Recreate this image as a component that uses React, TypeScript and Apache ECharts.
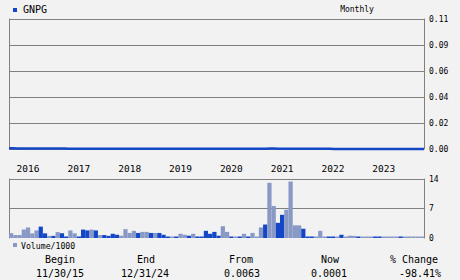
import { useEffect, useRef } from 'react';
import * as echarts from 'echarts';

// Monthly categories: Sep 2015 .. Oct 2023 (98 bars)
const months: string[] = [];
for (let y = 2015, m = 9; months.length < 98; ) {
  months.push(`${y}-${String(m).padStart(2, '0')}`);
  m++;
  if (m > 12) { m = 1; y++; }
}

const volumeK = [
  1.15, 0.7, 0.7, 2.0, 2.5, 1.1, 1.8, 2.7, 1.1, 0.5,
  0.5, 1.4, 1.1, 0.2, 1.8, 1.1, 0.2, 2.0, 1.8, 2.0,
  1.8, 0.7, 0.7, 0.5, 1.0, 0.77, 0.54, 2.1, 1.2, 1.7,
  1.2, 1.45, 1.45, 1.2, 1.2, 1.2, 0.77, 0.3, 0.1, 0.3,
  1.0, 0.77, 0.54, 1.0, 0.3, 0.1, 1.7, 1.0, 1.45, 0.54,
  2.8, 1.45, 0.3, 0.05, 0.1, 1.0, 0.1, 1.2, 0.3, 2.5,
  3.2, 13.1, 7.6, 3.6, 5.5, 6.7, 13.4, 3.0, 3.0, 2.2,
  0.05, 0.05, 0.3, 1.7, 0.3, 0.1, 0.05, 0.1, 0.77, 0.3,
  0.54, 0.5, 0.1, 0.1, 0.1, 0.1, 0.1, 0.1, 0.1, 0.1,
  0.1, 0.1, 0.1, 0.1, 0.1, 0.1, 0.1, 0.1,
];

// 1 = dark (up month), 0 = light
const volumeUp = [
  0, 0, 0, 0, 0, 0, 0, 1, 1, 0,
  1, 0, 1, 1, 0, 0, 1, 1, 1, 0,
  1, 0, 1, 1, 1, 1, 0, 0, 0, 0,
  1, 0, 0, 1, 0, 1, 1, 1, 0, 1,
  0, 0, 1, 0, 1, 1, 1, 1, 1, 1,
  0, 0, 1, 0, 1, 0, 1, 0, 0, 0,
  1, 0, 0, 1, 1, 0, 0, 0, 0, 1,
  1, 1, 0, 0, 0, 1, 1, 0, 1, 0,
  0, 0, 1, 0, 0, 0, 1, 1, 0, 0,
  0, 0, 1, 0, 0, 0, 0, 0,
];

const priceClose = [
  0.0006, 0.0006, 0.0005, 0.0005, 0.0005, 0.0004, 0.0004, 0.0004, 0.0004, 0.0004,
  0.0004, 0.0004, 0.0004, 0.0004, 0.0003, 0.0003, 0.0003, 0.0003, 0.0003, 0.0003,
  0.0003, 0.0003, 0.0003, 0.0003, 0.0003, 0.0003, 0.0003, 0.0003, 0.0003, 0.0003,
  0.0003, 0.0003, 0.0003, 0.0003, 0.0002, 0.0002, 0.0002, 0.0002, 0.0002, 0.0002,
  0.0002, 0.0002, 0.0002, 0.0002, 0.0002, 0.0002, 0.0002, 0.0002, 0.0002, 0.0002,
  0.0002, 0.0002, 0.0002, 0.0002, 0.0002, 0.0002, 0.0002, 0.0002, 0.0002, 0.0002,
  0.0003, 0.0004, 0.0004, 0.0003, 0.0003, 0.0003, 0.0003, 0.0002, 0.0002, 0.0002,
  0.0002, 0.0002, 0.0002, 0.0002, 0.0002, 0.0002, 0.0001, 0.0001, 0.0001, 0.0001,
  0.0001, 0.0001, 0.0001, 0.0001, 0.0001, 0.0001, 0.0001, 0.0001, 0.0001, 0.0001,
  0.0001, 0.0001, 0.0001, 0.0001, 0.0001, 0.0001, 0.0001, 0.0001,
];

const priceTickLabels = ['0.00', '0.02', '0.04', '0.06', '0.09', '0.11'];
const volumeTickLabels = ['0', '7', '14'];

const summaryHeads = ['Begin', 'End', 'From', 'Now', '% Change'];
const summaryValues = ['11/30/15', '12/31/24', '0.0063', '0.0001', '-98.41%'];

const MONO = "'DejaVu Sans Mono', monospace";
const GRID_COLOR = '#808080';
const DARK = '#1447c8';
const LIGHT = '#8899c6';

export default function App() {
  const ref = useRef<HTMLDivElement>(null);

  useEffect(() => {
    if (!ref.current) return;
    const chart = echarts.init(ref.current, undefined, { renderer: 'svg' });

    const headX = [60, 146, 241, 330, 414];
    const valX = [60, 145, 242, 329, 420];

    const graphic: any[] = [
      { type: 'rect', shape: { x: 13, y: 8, width: 4, height: 4 }, style: { fill: DARK } },
      { type: 'text', x: 23, y: 9.5, style: { text: 'GNPG', font: `10px ${MONO}`, fill: '#000', verticalAlign: 'middle', align: 'left' } },
      { type: 'text', x: 357, y: 9.5, style: { text: 'Monthly', font: `8px ${MONO}`, fill: '#000', verticalAlign: 'middle', align: 'center' } },
      { type: 'rect', shape: { x: 13, y: 243, width: 4, height: 4 }, style: { fill: LIGHT } },
      { type: 'text', x: 21, y: 245.5, style: { text: 'Volume/1000', font: `8.2px ${MONO}`, fill: '#000', verticalAlign: 'middle', align: 'left' } },
    ];
    summaryHeads.forEach((t, i) => {
      graphic.push({ type: 'text', x: headX[i], y: 259.5, style: { text: t, font: `10px ${MONO}`, fill: '#000', verticalAlign: 'middle', align: 'center' } });
    });
    summaryValues.forEach((t, i) => {
      graphic.push({ type: 'text', x: valX[i], y: 273.5, style: { text: t, font: `10px ${MONO}`, fill: '#000', verticalAlign: 'middle', align: 'center' } });
    });

    const axisLabelBase = { fontFamily: MONO, fontSize: 8, color: '#000', margin: 5, padding: [3, 0, 0, 0] };

    chart.setOption({
      animation: false,
      backgroundColor: '#f2f2f2',
      graphic,
      grid: [
        { left: 9, top: 19, width: 415, height: 130 },
        { left: 9, top: 179, width: 415, height: 59 },
      ],
      xAxis: [
        {
          type: 'category', gridIndex: 0, data: months, boundaryGap: false,
          axisLine: { show: false }, axisTick: { show: false }, axisLabel: { show: false }, splitLine: { show: false },
        },
        {
          type: 'category', gridIndex: 1, data: months, boundaryGap: true, position: 'top',
          axisLine: { show: false }, axisTick: { show: false }, splitLine: { show: false },
          axisLabel: {
            interval: (_i: number, v: string) => v.endsWith('-01'),
            formatter: (v: string) => v.slice(0, 4),
            fontFamily: MONO, fontSize: 9.5, color: '#000', margin: 6,
          },
        },
      ],
      yAxis: [
        {
          type: 'value', gridIndex: 0, position: 'right', min: 0, max: 0.11, interval: 0.022,
          axisLine: { show: true, lineStyle: { color: GRID_COLOR } }, axisTick: { show: false },
          axisLabel: { ...axisLabelBase, formatter: (v: number) => priceTickLabels[Math.round(v / 0.022)] ?? '' },
          splitLine: { show: true, lineStyle: { color: GRID_COLOR, width: 1 } },
        },
        {
          type: 'value', gridIndex: 0, position: 'left', min: 0, max: 0.11, interval: 0.022,
          axisLine: { show: true, lineStyle: { color: GRID_COLOR } }, axisTick: { show: false },
          axisLabel: { show: false }, splitLine: { show: false },
        },
        {
          type: 'value', gridIndex: 1, position: 'right', min: 0, max: 14, interval: 7,
          axisLine: { show: true, lineStyle: { color: GRID_COLOR } }, axisTick: { show: false },
          axisLabel: { ...axisLabelBase, formatter: (v: number) => volumeTickLabels[Math.round(v / 7)] ?? '' },
          splitLine: { show: true, lineStyle: { color: ['rgba(0,0,0,0)', GRID_COLOR, GRID_COLOR], width: 1 } },
        },
        {
          type: 'value', gridIndex: 1, position: 'left', min: 0, max: 14, interval: 7,
          axisLine: { show: true, lineStyle: { color: GRID_COLOR } }, axisTick: { show: false },
          axisLabel: { show: false }, splitLine: { show: false },
        },
      ],
      series: [
        {
          type: 'line', xAxisIndex: 0, yAxisIndex: 0, data: priceClose,
          showSymbol: false, symbol: 'none', clip: false,
          lineStyle: { color: DARK, width: 2.5 },
        },
        {
          type: 'bar', xAxisIndex: 1, yAxisIndex: 2, barCategoryGap: '0%', barMinHeight: 1.5,
          data: volumeK.map((v, i) => ({ value: v, itemStyle: { color: volumeUp[i] ? DARK : LIGHT } })),
        },
      ],
    });

    return () => chart.dispose();
  }, []);

  return (
    <div
      ref={ref}
      style={{ position: 'absolute', left: 0, top: 0, width: 460, height: 280 }}
    />
  );
}
